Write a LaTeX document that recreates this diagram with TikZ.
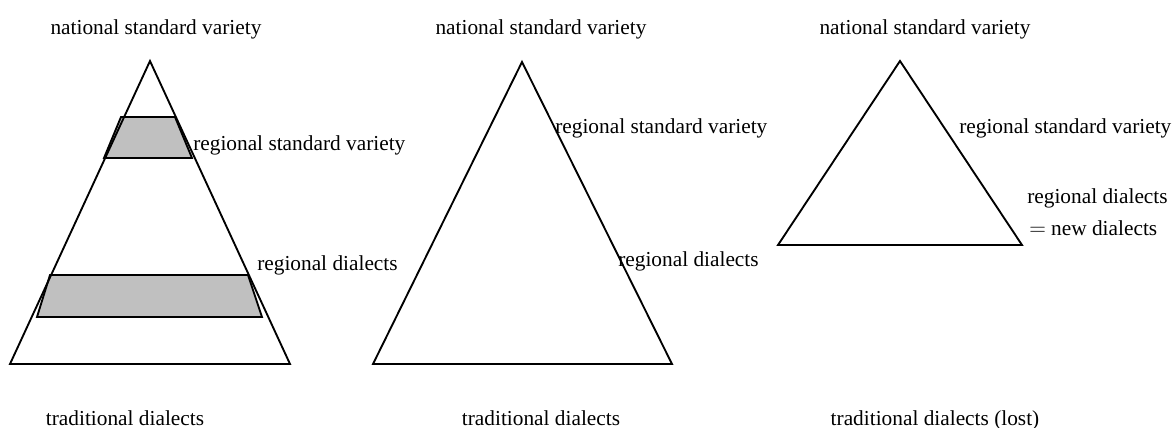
\documentclass[tikz,border=0pt]{standalone}
\usepackage{fontspec}
\setmainfont{Liberation Serif}
\definecolor{bandgray}{RGB}{192,192,192}
\tikzset{
  tri/.style={draw=black, line width=1.4pt, line join=miter},
  band/.style={draw=black, fill=bandgray, line width=1.4pt},
  lbl/.style={inner sep=0pt, font=\fontsize{16pt}{18pt}\selectfont, anchor=base west},
  clbl/.style={inner sep=0pt, font=\fontsize{16pt}{18pt}\selectfont, anchor=base},
}
\begin{document}
\begin{tikzpicture}[x=0.75pt, y=-0.75pt]
\useasboundingbox (0,0) rectangle (1175,428);
% triangle 1 with bands
\coordinate (t1a) at (150,61);
\coordinate (t1l) at (10,364);
\coordinate (t1r) at (290,364);
\draw[band] (121,117) -- (175,117) -- (192,158) -- (104,158) -- cycle;
\draw[band] (50,275) -- (248,275) -- (262,317) -- (37,317) -- cycle;
\draw[tri] (t1a) -- (t1r) -- (t1l) -- cycle;
% triangle 2
\coordinate (t2a) at (522,62);
\coordinate (t2l) at (373,364);
\coordinate (t2r) at (672,364);
\draw[tri] (t2a) -- (t2r) -- (t2l) -- cycle;
% triangle 3
\coordinate (t3a) at (900,61);
\coordinate (t3l) at (778,245);
\coordinate (t3r) at (1022,245);
\draw[tri] (t3a) -- (t3r) -- (t3l) -- cycle;
% top labels
\node[clbl] (n1) at (156,35) {national standard variety};
\node[clbl] (n2) at (541,35) {national standard variety};
\node[clbl] (n3) at (925,35) {national standard variety};
% side labels
\node[lbl] (r1) at (193,150) {regional standard variety};
\node[lbl] (d1) at (257,270) {regional dialects};
\node[lbl] (r2) at (555,133) {regional standard variety};
\node[lbl] (d2) at (618,266) {regional dialects};
\node[lbl] (r3) at (959,133) {regional standard variety};
\node[lbl] (d3) at (1027,203) {regional dialects};
\node[lbl] (e3) at (1029,235) {$=$ new dialects};
% bottom labels
\node[clbl] (b1) at (125,425) {traditional dialects};
\node[clbl] (b2) at (541,425) {traditional dialects};
\node[clbl] (b3) at (935,425) {traditional dialects (lost)};
\end{tikzpicture}
\end{document}
